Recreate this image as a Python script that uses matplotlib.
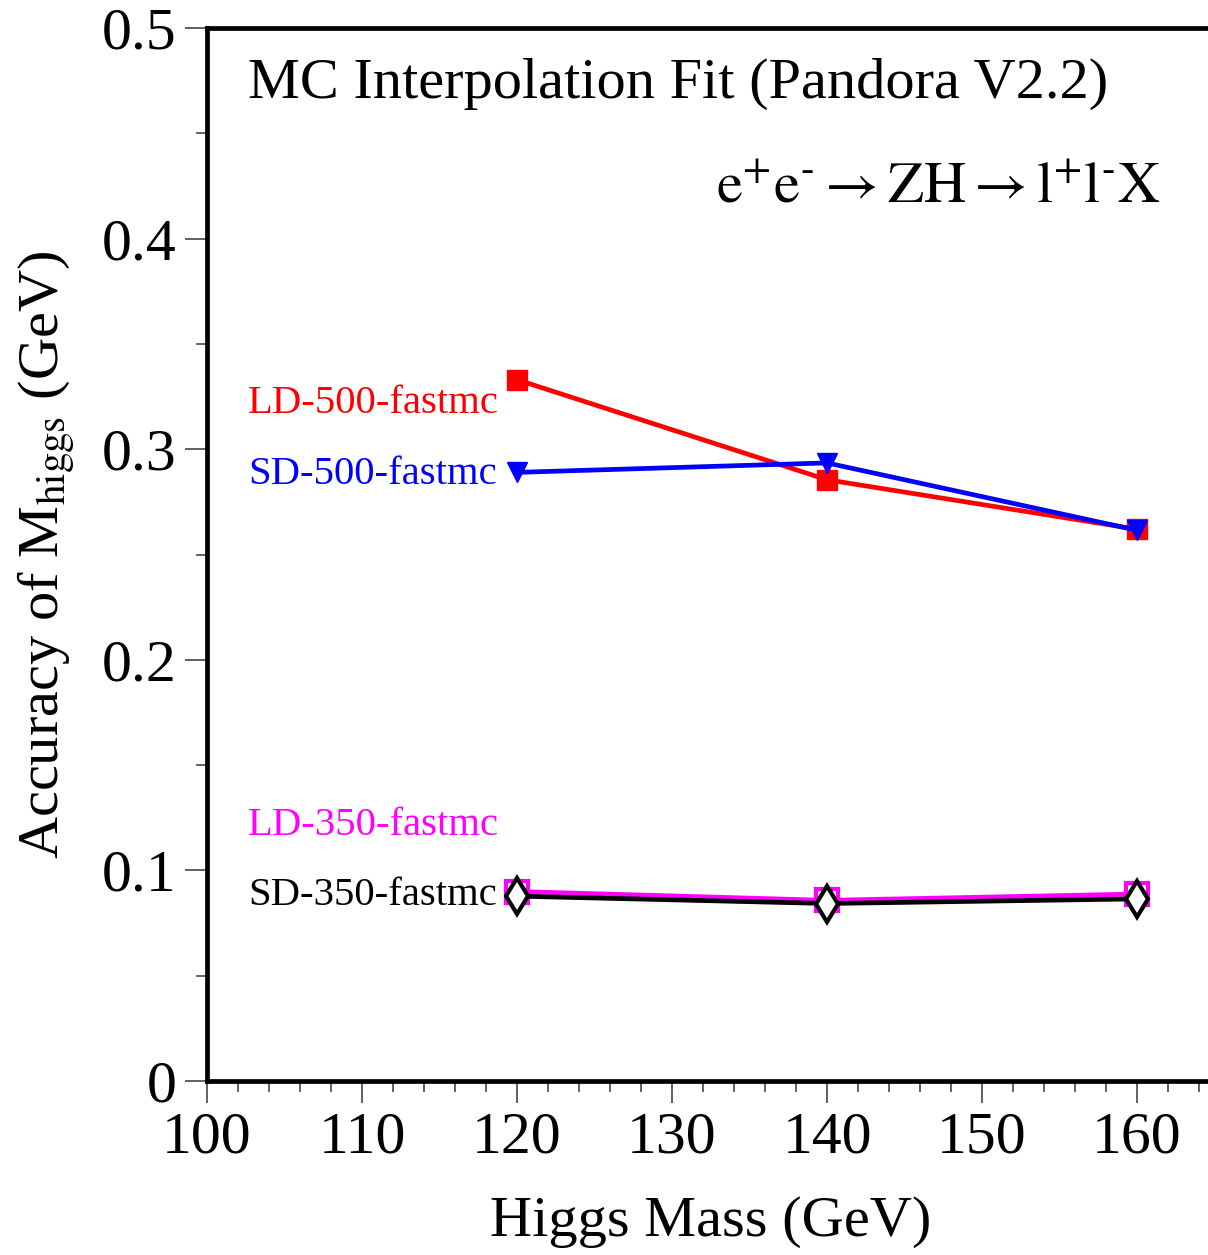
import matplotlib
matplotlib.use("Agg")
import matplotlib.pyplot as plt
from matplotlib.ticker import MultipleLocator

plt.rcParams['font.family'] = ['Liberation Serif', 'DejaVu Serif']
plt.rcParams['mathtext.fontset'] = 'stix'

# Higgs masses (GeV) and fitted mass accuracy (GeV)
masses = [120, 140, 160]
ld500 = [0.333, 0.2855, 0.262]
sd500 = [0.289, 0.2935, 0.2615]
ld350 = [0.090, 0.0858, 0.0888]
sd350 = [0.0878, 0.0843, 0.0865]

names = ['LD-500-fastmc', 'SD-500-fastmc', 'LD-350-fastmc', 'SD-350-fastmc']
label_y = [0.317, 0.2835, 0.1168, 0.0836]
colors = ['red', 'blue', 'magenta', 'black']

fig = plt.figure(figsize=(12.08, 12.55), dpi=100)
ax = fig.add_axes([0.1714, 0.1386, 0.834, 0.8391])

ax.plot(masses, ld500, color='red', lw=3.4, marker='s', ms=14, mec='red', mfc='red')
ax.plot(masses, sd500, color='blue', lw=3.4, marker='v', ms=15, mec='blue', mfc='blue')
ax.plot(masses, ld350, color='magenta', lw=3.4, marker='s', ms=16.5, mec='magenta',
        mfc='white', mew=3)
ax.plot(masses, sd350, color='black', lw=3.4, marker='d', ms=18, mec='black',
        mfc='white', mew=3)

for name, y, c in zip(names, label_y, colors):
    ax.text(102.65, y, name, color=c, fontsize=29.3, ha='left', va='baseline')

ax.text(102.65, 0.4668, 'MC Interpolation Fit (Pandora V2.2)', fontsize=42,
        ha='left', va='baseline')
ax.text(161.5, 0.417,
        r'$\mathrm{e^{+}e^{\text{-}}\rightarrow ZH\rightarrow l^{+}l^{\text{-}}X}$',
        fontsize=42, ha='right', va='baseline')

ax.set_xlim(100, 165)
ax.set_ylim(0, 0.5)
ax.xaxis.set_major_locator(MultipleLocator(10))
ax.xaxis.set_minor_locator(MultipleLocator(2))
ax.set_yticks([0, 0.1, 0.2, 0.3, 0.4, 0.5])
ax.set_yticklabels(['0', '0.1', '0.2', '0.3', '0.4', '0.5'])
ax.yaxis.set_minor_locator(MultipleLocator(0.05))

ax.tick_params(which='both', direction='out', color='#555555', width=1.3,
               labelsize=43, top=False, right=False)
ax.tick_params(which='major', length=16, pad=6)
ax.tick_params(which='minor', length=8)
for s in ax.spines.values():
    s.set_linewidth(3.4)

ax.set_xlabel('Higgs Mass (GeV)', fontsize=42, labelpad=22)
ax.set_ylabel(r'Accuracy of M$_{\mathrm{higgs}}$ (GeV)', fontsize=42, labelpad=18)

fig.savefig('out.png', dpi=100)
